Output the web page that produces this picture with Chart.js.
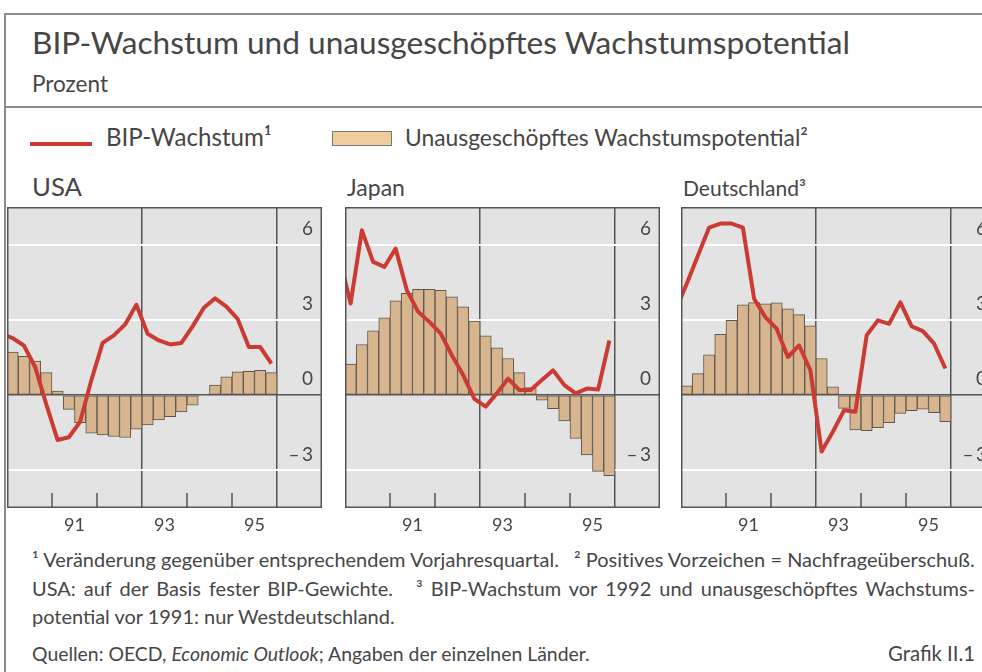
<!DOCTYPE html>
<html><head><meta charset="utf-8">
<script src="https://cdn.jsdelivr.net/npm/chart.js@4.4.1/dist/chart.umd.min.js"></script>
<style>
html,body{margin:0;padding:0;background:#fff;}
body{width:982px;height:672px;overflow:hidden;position:relative;font-family:Lato,'Open Sans',sans-serif;color:#464646;}
.t{position:absolute;white-space:nowrap;line-height:1.2;left:0;top:0;}
.j{white-space:normal;text-align:justify;text-align-last:justify;width:943px;}
.hl{position:absolute;background:#8c8c8c;}
canvas{position:absolute;}
.sw1{position:absolute;left:30px;top:142px;width:62px;height:4px;background:#cc3b33;}
.sw2{position:absolute;left:332px;top:131px;width:58px;height:13px;background:#efcd9d;border:1px solid #777;}
</style></head><body>

<div class="hl" style="left:4px;top:13px;width:2px;height:659px"></div>
<div class="hl" style="left:4px;top:13px;width:978px;height:2px"></div>
<div class="hl" style="left:4px;top:106px;width:978px;height:2px"></div>

<div class="t" data-x="32" data-b="54" data-w="818" style="font-size:30px">BIP-Wachstum und unausgeschöpftes Wachstumspotential</div>
<div class="t" data-x="32" data-b="92" data-w="76" style="font-size:20px">Prozent</div>

<div class="sw1"></div>
<div class="t" data-x="106" data-b="146" data-w="166" style="font-size:22px">BIP-Wachstum¹</div>
<div class="sw2"></div>
<div class="t" data-x="405" data-b="146" data-w="403" style="font-size:22px">Unausgeschöpftes Wachstumspotential²</div>

<div class="t" data-x="32" data-b="196" data-w="50" style="font-size:26px">USA</div>
<div class="t" data-x="347" data-b="196" data-w="58" style="font-size:26px">Japan</div>
<div class="t" data-x="683" data-b="196" data-w="123" style="font-size:26px">Deutschland³</div>

<canvas id="cUSA" width="315" height="331" style="left:7px;top:207px"></canvas>
<canvas id="cJPN" width="315" height="331" style="left:345px;top:207px"></canvas>
<canvas id="cDEU" width="315" height="331" style="left:681px;top:207px"></canvas>

<div class="t" id="f1" data-x="32" data-b="567" data-fs="f3" data-lw="943" style="font-size:17px">¹ Veränderung gegenüber entsprechendem Vorjahresquartal.&emsp;² Positives Vorzeichen = Nachfrageüberschuß.</div>
<div class="t j" id="f2" data-x="32" data-b="596" data-fs="f3" style="font-size:17px">USA: auf der Basis fester BIP-Gewichte.&emsp; ³ BIP-Wachstum vor 1992 und unausgeschöpftes Wachstums-</div>
<div class="t" id="f3" data-x="32" data-b="624" data-w="363" style="font-size:17px">potential vor 1991: nur Westdeutschland.</div>
<div class="t" data-x="32" data-b="661" data-w="558" style="font-size:17px">Quellen: OECD, <i>Economic Outlook</i>; Angaben der einzelnen Länder.</div>
<div class="t" data-r="975" data-b="661" data-w="87" style="font-size:17px">Grafik II.1</div>

<script>
// ---- data (quarterly, 1989Q4 .. 1995Q4) ----
const quarters = ['1989Q4',
  '1990Q1','1990Q2','1990Q3','1990Q4','1991Q1','1991Q2','1991Q3','1991Q4',
  '1992Q1','1992Q2','1992Q3','1992Q4','1993Q1','1993Q2','1993Q3','1993Q4',
  '1994Q1','1994Q2','1994Q3','1994Q4','1995Q1','1995Q2','1995Q3','1995Q4'];
const barQuarters = quarters.slice(1); // gap series starts 1990Q1

const usaGrowth = [2.45, 2.27, 1.98, 1.12, -0.38, -1.79, -1.68, -1.06, 0.6, 2.08, 2.38, 2.82, 3.6,
  2.45, 2.18, 2.02, 2.08, 2.74, 3.48, 3.86, 3.53, 3.04, 1.92, 1.92, 1.26];
const usaGap = [1.72, 1.55, 1.36, 0.90, 0.16, -0.57, -1.10, -1.52, -1.59, -1.65, -1.69, -1.36,
  -1.19, -0.99, -0.86, -0.67, -0.40, -0.03, 0.40, 0.73, 0.93, 0.95, 0.99, 0.90];

const jpnGrowth = [5.5, 3.65, 6.57, 5.31, 5.11, 5.84, 4.18, 3.32, 2.92, 2.46, 1.59, 0.80, -0.15,
  -0.46, 0.07, 0.66, 0.2, 0.2, 0.6, 0.99, 0.40, 0.07, 0.26, 0.22, 2.18];
const jpnGap = [1.24, 2.02, 2.56, 3.08, 3.76, 4.06, 4.22, 4.22, 4.18, 3.92, 3.52, 2.95,
  2.36, 1.89, 1.46, 0.90, 0.30, -0.20, -0.54, -1.03, -1.73, -2.38, -3.04, -3.21];

const deuGrowth = [3.37, 4.43, 5.56, 6.68, 6.84, 6.84, 6.68, 3.84, 3.11, 2.65, 1.52, 1.98, 0.99,
  -2.25, -1.46, -0.60, -0.66, 2.38, 2.98, 2.84, 3.70, 2.74, 2.55, 2.05, 1.06];
const deuGap = [0.37, 0.86, 1.61, 2.42, 2.98, 3.60, 3.69, 3.64, 3.68, 3.44, 3.21, 2.76,
  1.46, 0.33, -0.53, -1.39, -1.42, -1.30, -1.10, -0.73, -0.62, -0.56, -0.70, -1.06];

const yTicks = [-3, 0, 3, 6];
const yearMarks = [1991, 1992, 1993, 1994, 1995, 1996];
const fullLineYears = [1993, 1996];
const yearLabels = {1991: '91', 1993: '93', 1995: '95'};

// ---- helpers ----
const qIndex = q => (parseInt(q.slice(0, 4)) - 1990) * 4 + (parseInt(q.slice(5)) - 1);
const yearPos = y => (y - 1990) * 4 - 0.5;

const panelDecor = {
  id: 'panelDecor',
  beforeDraw(chart) {
    const {ctx, chartArea: a} = chart;
    ctx.save();
    ctx.fillStyle = '#e3e3e3';
    ctx.fillRect(a.left, a.top, a.right - a.left, a.bottom - a.top);
    ctx.restore();
  },
  afterDraw(chart) {
    const {ctx, chartArea: a, scales: {x}} = chart;
    ctx.save();
    ctx.strokeStyle = '#555';
    ctx.lineWidth = 1.5;
    yearMarks.filter(y => !fullLineYears.includes(y)).forEach(y => {
      const px = x.getPixelForValue(yearPos(y));
      ctx.beginPath(); ctx.moveTo(px, a.bottom); ctx.lineTo(px, a.bottom - 15); ctx.stroke();
    });
    ctx.strokeRect(a.left + 0.75, a.top + 0.75, a.right - a.left - 1.5, a.bottom - a.top - 1.5);
    ctx.restore();
  }
};

function makePanel(id, growth, gap) {
  new Chart(document.getElementById(id), {
    type: 'bar',
    data: {
      datasets: [
        {
          type: 'line', order: 0,
          data: quarters.map((q, i) => ({x: qIndex(q), y: growth[i]})),
          borderColor: '#cc3b33', borderWidth: 4, pointRadius: 0, tension: 0, clip: 0,
          borderJoinStyle: 'round'
        },
        {
          type: 'bar', order: 1,
          data: barQuarters.map((q, i) => ({x: qIndex(q), y: gap[i]})),
          backgroundColor: '#d7b58e', borderColor: '#5e564e', borderWidth: 1,
          barPercentage: 1, categoryPercentage: 1, borderSkipped: false
        }
      ]
    },
    options: {
      responsive: false, animation: false, devicePixelRatio: 1,
      layout: {padding: 0},
      plugins: {legend: {display: false}, tooltip: {enabled: false}},
      scales: {
        x: {
          type: 'linear', min: -0.5, max: 27.5, offset: false, position: 'bottom',
          afterBuildTicks: s => { s.ticks = yearMarks.map(y => ({value: yearPos(y)})); },
          afterFit: s => { s.height = 30; s.paddingLeft = 0; s.paddingRight = 0; },
          grid: {
            offset: false, drawTicks: false,
            color: c => (c.tick && fullLineYears.map(yearPos).includes(c.tick.value)) ? '#555' : 'rgba(0,0,0,0)',
            lineWidth: 1.5
          },
          border: {display: false},
          ticks: {
            autoSkip: false, maxRotation: 0, padding: 6, labelOffset: 22.5,
            color: '#464646', font: {family: 'Lato', size: 18},
            callback: v => { const y = Math.round((v + 0.5) / 4 + 1990); return yearLabels[y] || ''; }
          }
        },
        y: {
          type: 'linear', min: -4.5, max: 7.5, position: 'right',
          afterBuildTicks: s => { s.ticks = yTicks.map(v => ({value: v})); },
          afterFit: s => { s.width = 0; s.paddingTop = 0; s.paddingBottom = 0; },
          grid: {
            drawTicks: false,
            color: c => (c.tick && c.tick.value === 0) ? '#555' : '#ffffff',
            lineWidth: c => (c.tick && c.tick.value === 0) ? 1.5 : 2
          },
          border: {display: false},
          ticks: {
            mirror: true, padding: -9, labelOffset: -16,
            color: '#464646', font: {family: 'Lato', size: 19},
            callback: v => v < 0 ? '\u2013\u2009' + Math.abs(v) : String(v)
          }
        }
      }
    },
    plugins: [panelDecor]
  });
}

function layoutText() {
  const els = Array.from(document.querySelectorAll('.t'));
  els.forEach(el => {
    const w = +el.dataset.w;
    if (w) {
      const r = el.getBoundingClientRect().width;
      const fs = parseFloat(getComputedStyle(el).fontSize);
      el.style.fontSize = (fs * w / r).toFixed(2) + 'px';
    }
  });
  els.forEach(el => {
    if (el.dataset.fs) el.style.fontSize = document.getElementById(el.dataset.fs).style.fontSize;
  });
  els.forEach(el => {
    const lw = +el.dataset.lw;
    if (lw) {
      const r = el.getBoundingClientRect().width;
      const n = el.textContent.length;
      el.style.letterSpacing = ((lw - r) / n).toFixed(3) + 'px';
    }
  });
  els.forEach(el => {
    const m = document.createElement('span');
    m.style.cssText = 'display:inline-block;width:0;height:0;vertical-align:baseline';
    el.appendChild(m);
    const off = m.getBoundingClientRect().top - el.getBoundingClientRect().top;
    el.style.top = (+el.dataset.b - off) + 'px';
    if (el.dataset.r) el.style.left = (+el.dataset.r - el.getBoundingClientRect().width) + 'px';
    else el.style.left = el.dataset.x + 'px';
  });
}

function init() {
  layoutText();
  makePanel('cUSA', usaGrowth, usaGap);
  makePanel('cJPN', jpnGrowth, jpnGap);
  makePanel('cDEU', deuGrowth, deuGap);
}
if (document.fonts && document.fonts.ready) document.fonts.ready.then(init); else init();
</script>
</body></html>
